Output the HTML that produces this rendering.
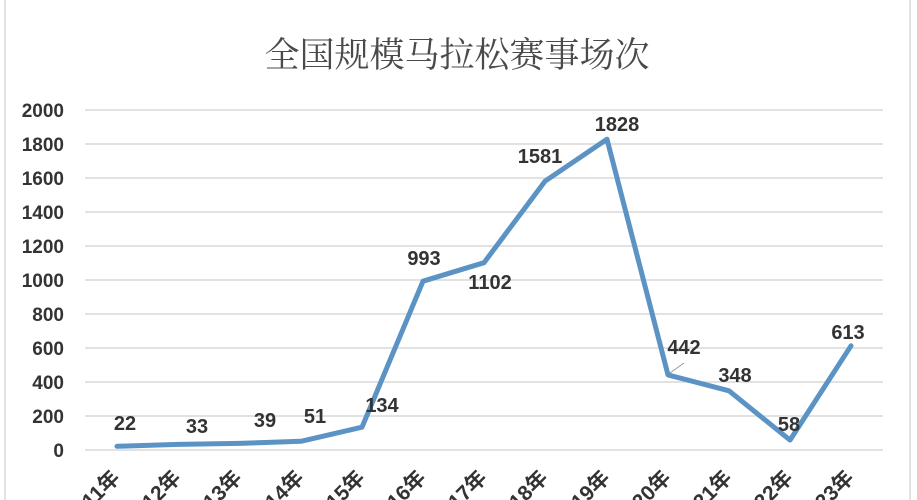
<!DOCTYPE html>
<html><head><meta charset="utf-8"><style>
html,body{margin:0;padding:0;background:#fff;width:917px;height:500px;overflow:hidden}
text{font-family:"Liberation Sans","Noto Sans CJK SC",sans-serif}
</style></head><body>
<svg width="917" height="500" viewBox="0 0 917 500" xmlns="http://www.w3.org/2000/svg">
<rect x="0" y="0" width="917" height="500" fill="#fff"/>
<line x1="5" y1="0" x2="5" y2="500" stroke="#d8d8d8" stroke-width="1.5"/>
<line x1="910" y1="0" x2="910" y2="500" stroke="#d8d8d8" stroke-width="1.5"/>
<text x="457" y="67" text-anchor="middle" font-size="35" fill="#4a4a4a" style="font-family:'Noto Serif CJK SC','Liberation Serif',serif">全国规模马拉松赛事场次</text>
<g stroke="#d9d9d9" stroke-width="1.5">
<line x1="85" x2="883" y1="110" y2="110"/><line x1="85" x2="883" y1="144" y2="144"/>
<line x1="85" x2="883" y1="178" y2="178"/><line x1="85" x2="883" y1="212" y2="212"/>
<line x1="85" x2="883" y1="246" y2="246"/><line x1="85" x2="883" y1="280" y2="280"/>
<line x1="85" x2="883" y1="314" y2="314"/><line x1="85" x2="883" y1="348" y2="348"/>
<line x1="85" x2="883" y1="382" y2="382"/><line x1="85" x2="883" y1="416" y2="416"/>
<line x1="85" x2="883" y1="450" y2="450"/>
</g>
<g font-size="19" font-weight="bold" fill="#333" text-anchor="end">
<text x="64" y="117">2000</text><text x="64" y="151">1800</text><text x="64" y="185">1600</text>
<text x="64" y="219">1400</text><text x="64" y="253">1200</text><text x="64" y="287">1000</text>
<text x="64" y="321">800</text><text x="64" y="355">600</text><text x="64" y="389">400</text>
<text x="64" y="423">200</text><text x="64" y="457">0</text>
</g>
<polyline fill="none" stroke="#5b93c4" stroke-width="5" stroke-linejoin="round" stroke-linecap="round"
points="117,446.3 178,444.4 239,443.4 301,441.3 362,427.2 423,281.2 484,262.7 545,181.2 607,139.2 668,374.9 729,390.8 790,440.1 851,345.8"/>
<line x1="670" y1="373" x2="684" y2="363" stroke="#999" stroke-width="1"/>
<g font-size="20" font-weight="bold" fill="#333" text-anchor="middle">
<text x="125" y="430">22</text><text x="197" y="433">33</text><text x="265" y="427">39</text>
<text x="315" y="423">51</text><text x="382" y="412">134</text><text x="424" y="265">993</text>
<text x="490" y="289">1102</text><text x="540" y="163">1581</text><text x="617" y="131">1828</text>
<text x="684" y="354">442</text><text x="735" y="382">348</text><text x="789" y="431">58</text>
<text x="848" y="339">613</text>
</g>
<g font-size="21" font-weight="bold" fill="#333" text-anchor="end">
<text transform="translate(121,479) rotate(-45)">2011年</text>
<text transform="translate(182,479) rotate(-45)">2012年</text>
<text transform="translate(243,479) rotate(-45)">2013年</text>
<text transform="translate(305,479) rotate(-45)">2014年</text>
<text transform="translate(366,479) rotate(-45)">2015年</text>
<text transform="translate(427,479) rotate(-45)">2016年</text>
<text transform="translate(488,479) rotate(-45)">2017年</text>
<text transform="translate(549,479) rotate(-45)">2018年</text>
<text transform="translate(611,479) rotate(-45)">2019年</text>
<text transform="translate(672,479) rotate(-45)">2020年</text>
<text transform="translate(733,479) rotate(-45)">2021年</text>
<text transform="translate(794,479) rotate(-45)">2022年</text>
<text transform="translate(855,479) rotate(-45)">2023年</text>
</g>
</svg>
</body></html>
